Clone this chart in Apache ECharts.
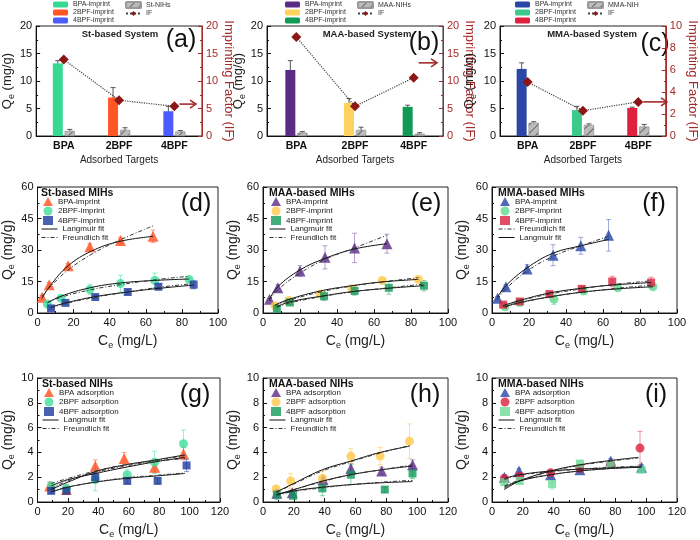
<!DOCTYPE html>
<html>
<head>
<meta charset="UTF-8">
<title>Imprinted hydrogels - adsorption</title>
<style>
  body { margin: 0; background: #fff; }
  .pane { position: absolute; left: 0; top: 0; width: 700px; height: 540px; }
</style>
</head>
<body>
<div id="pa" class="pane"></div>
<div id="pb" class="pane"></div>
<div id="pc" class="pane"></div>
<div id="pd" class="pane"></div>
<div id="pe" class="pane"></div>
<div id="pf" class="pane"></div>
<div id="pg" class="pane"></div>
<div id="ph" class="pane"></div>
<div id="pi" class="pane"></div>

<script src="https://cdn.jsdelivr.net/npm/echarts@6/dist/echarts.min.js"></script>
<script>
// ---- bar panels (a)-(c) ----
var targets = ['BPA', '2BPF', '4BPF'];

var stImp = [13.2, 7.0, 4.5], stImpErr = [0.5, 1.8, 0.9];
var stNih = [0.9, 1.1, 0.8], stNihErr = [0.3, 0.4, 0.2];
var stIF = [13.9, 6.5, 5.4];

var maaImp = [12.0, 6.0, 5.3], maaImpErr = [1.7, 0.8, 0.3];
var maaNih = [0.6, 1.1, 0.4], maaNihErr = [0.2, 0.5, 0.2];
var maaIF = [18.0, 5.4, 10.6];

var mmaImp = [12.2, 4.7, 5.1], mmaImpErr = [1.1, 0.7, 0.15];
var mmaNih = [2.4, 2.0, 1.7], mmaNihErr = [0.2, 0.2, 0.4];
var mmaIF = [4.9, 2.3, 3.1];

// ---- MIH isotherms (d)-(f): [Ce, Qe, err] ----
var dBPA = [[2.5, 7.5, 0.8], [6.5, 13.5, 1], [17, 22.5, 1], [29, 31.5, 1.5], [46, 34.5, 1.5], [64, 36.5, 3]];
var d2BPF = [[5.5, 4.3, 0.5], [13, 7, 0.8], [29, 11.2, 2.5], [46, 14, 4], [65, 15.5, 3.5], [84, 16, 1]];
var d4BPF = [[7.5, 2.2, 0.5], [15.5, 4.8, 0.7], [32, 7.6, 0.8], [50, 10, 1], [67, 12.5, 1.2], [86.5, 13.5, 2]];
var dLangBPA = [[2.5, 7], [7, 13], [17, 22.5], [30, 29.5], [45, 34], [64, 36.5]];
var dFreuBPA = [[2.5, 8], [7, 12.5], [17, 20.5], [30, 28], [45, 34.5], [64, 41.5]];
var dLang2 = [[5.5, 4.8], [13, 8], [29, 12], [46, 14.3], [65, 15.5], [84, 16.2]];
var dFreu2 = [[5.5, 5], [13, 7.5], [29, 11], [46, 13.5], [65, 15.8], [84, 17.5]];
var dLang4 = [[7.5, 2.8], [15.5, 4.8], [32, 7.8], [50, 10], [67, 11.7], [86.5, 13.3]];
var dFreu4 = [[7.5, 2.5], [15.5, 4.5], [32, 7.5], [50, 10], [67, 12.2], [86.5, 14]];

var eBPA = [[3.5, 6.5, 0.5], [8, 12, 1.5], [20, 20, 2.5], [33.5, 26.5, 5.5], [49.5, 31, 7], [67, 33, 4.5]];
var e2BPF = [[6.5, 3.5, 0.5], [14, 6, 0.5], [31, 9, 0.8], [48, 11.5, 1], [64.5, 15.5, 0.8], [84, 16, 1]];
var e4BPF = [[7.5, 2, 1.5], [14.5, 5, 1], [33, 8, 2], [49.5, 10.5, 2], [68, 12, 3], [87, 13, 2.5]];
var eLangBPA = [[3.5, 6.5], [8, 12.5], [20, 20.5], [33.5, 26], [49.5, 30.5], [67, 33]];
var eFreuBPA = [[3.5, 6], [8, 11], [20, 19], [33.5, 25.5], [49.5, 31], [67, 37]];
var eLang2 = [[6.5, 3.8], [14, 6.5], [31, 10.5], [48, 13], [64.5, 14.8], [84, 16]];
var eFreu2 = [[6.5, 3.5], [14, 6], [31, 10], [48, 12.8], [64.5, 14.8], [84, 16.8]];
var eLang4 = [[7.5, 3], [14.5, 5.3], [33, 8.2], [49.5, 10.3], [68, 11.8], [87, 13]];
var eFreu4 = [[7.5, 2.7], [14.5, 4.8], [33, 8], [49.5, 10.2], [68, 12], [87, 13.8]];

var fBPA = [[3, 7, 0.8], [7.5, 12.5, 1], [19, 21, 2], [33, 27.5, 5], [48, 32, 4], [63, 37, 7.5]];
var f2BPF = [[7, 3, 0.5], [15, 5, 0.5], [33.5, 6.5, 2.5], [49.5, 10.5, 1], [68, 12, 1], [87, 12.5, 0.8]];
var f4BPF = [[6, 4, 0.5], [15, 5.5, 0.5], [31, 9, 1], [48.5, 11.5, 1], [65, 15, 2.5], [86, 14.5, 2.5]];
var fLangBPA = [[3, 7.5], [7.5, 13], [19, 21.5], [33, 28.5], [48, 32], [63, 35]];
var fFreuBPA = [[3, 6.5], [7.5, 11.5], [19, 20], [33, 27], [48, 32], [63, 36.5]];
var fLang2 = [[7, 3], [15, 5], [33.5, 8], [49.5, 10], [68, 11.5], [87, 12.5]];
var fFreu2 = [[7, 2.7], [15, 4.8], [33.5, 8], [49.5, 10], [68, 11.8], [87, 13.3]];
var fLang4 = [[6, 3.5], [15, 6], [31, 9.5], [48.5, 11.8], [65, 13.3], [86, 14.5]];
var fFreu4 = [[6, 3.2], [15, 5.8], [31, 9], [48.5, 11.5], [65, 13.5], [86, 15.3]];

// ---- NIH isotherms (g)-(i) ----
var gBPA = [[8, 1.3, 0.3], [19, 1.0, 0.2], [38, 2.9, 0.5], [57, 3.5, 0.5], [77, 2.8, 0.4], [96, 3.9, 0.5]];
var g2BPF = [[9, 1.3, 0.3], [19, 1.1, 0.2], [38, 1.8, 0.9], [59, 2.2, 0.4], [77, 3.2, 0.9], [96, 4.7, 1.1]];
var g4BPF = [[9, 0.9, 0.2], [19, 0.9, 0.2], [38, 2.0, 0.3], [59, 1.7, 0.2], [79, 1.7, 0.2], [98, 2.95, 0.5]];
var gLangBPA = [[9, 1.0], [20, 1.6], [38, 2.45], [58, 3.0], [78, 3.4], [97, 3.8]];
var gFreuBPA = [[9, 1.1], [20, 1.7], [38, 2.4], [58, 2.9], [78, 3.35], [97, 3.75]];
var gLang2 = [[9, 1.3], [20, 1.8], [38, 2.3], [58, 2.8], [78, 3.25], [97, 3.6]];
var gFreu2 = [[9, 1.5], [20, 1.9], [38, 2.5], [58, 3.0], [78, 3.3], [97, 3.5]];
var gLang4 = [[9, 0.8], [20, 1.2], [38, 1.6], [58, 1.9], [78, 2.1], [97, 2.3]];
var gFreu4 = [[9, 0.85], [20, 1.2], [38, 1.6], [58, 1.95], [78, 2.15], [97, 2.35]];

var hBPA = [[9, 0.7, 0.2], [19, 0.75, 0.2], [39, 1.8, 0.2], [57, 2.7, 0.4], [77, 2.5, 0.3], [97, 3.0, 0.4]];
var h2BPF = [[8.5, 1.05, 0.2], [18, 1.7, 0.6], [38.5, 1.9, 0.6], [57, 3.7, 0.6], [76, 3.7, 0.7], [95, 4.9, 1.4]];
var h4BPF = [[9, 0.6, 0.4], [19.5, 0.5, 0.2], [38.5, 1.1, 0.6], [57, 2.2, 0.8], [79, 1.0, 0.2], [97, 2.3, 0.4]];
var hLangBPA = [[9, 0.6], [20, 1.0], [39, 1.7], [57, 2.2], [77, 2.6], [97, 2.9]];
var hFreuBPA = [[9, 0.55], [20, 1.0], [39, 1.65], [57, 2.2], [77, 2.6], [97, 3.0]];
var hLang2 = [[8.5, 0.8], [20, 1.5], [38.5, 2.6], [57, 3.3], [76, 4.0], [95, 4.5]];
var hFreu2 = [[8.5, 0.75], [20, 1.45], [38.5, 2.5], [57, 3.25], [76, 3.95], [95, 4.55]];
var hLang4 = [[9, 0.6], [20, 0.9], [39, 1.2], [57, 1.4], [77, 1.55], [97, 1.65]];
var hFreu4 = [[9, 0.55], [20, 0.85], [39, 1.15], [57, 1.4], [77, 1.6], [97, 1.75]];

var iBPA = [[8, 2.0, 0.2], [17.5, 2.5, 0.2], [38, 2.2, 0.2], [57, 2.6, 0.2], [77, 3.3, 0.2], [97, 2.8, 0.2]];
var i2BPF = [[8, 1.9, 0.2], [18, 2.1, 0.2], [38, 2.35, 0.2], [57, 2.7, 0.2], [77, 3.05, 0.2], [96, 4.35, 1.35]];
var i4BPF = [[8, 1.6, 0.2], [18, 1.7, 0.2], [39, 1.45, 0.4], [57, 3.1, 0.2], [77, 3.0, 0.2], [97, 2.6, 0.2]];
var iLangBPA = [[8, 1.9], [18, 2.2], [38, 2.5], [57, 2.65], [77, 2.75], [97, 2.85]];
var iFreuBPA = [[8, 1.8], [18, 2.15], [38, 2.45], [57, 2.65], [77, 2.8], [97, 2.9]];
var iLang2 = [[8, 1.0], [18, 1.7], [38, 2.5], [57, 3.0], [77, 3.35], [95, 3.6]];
var iFreu2 = [[8, 1.1], [18, 1.7], [38, 2.45], [57, 2.95], [77, 3.3], [95, 3.55]];
var iLang4 = [[8, 1.2], [18, 1.7], [38, 2.2], [57, 2.5], [77, 2.7], [97, 2.8]];
var iFreu4 = [[8, 1.3], [18, 1.75], [38, 2.2], [57, 2.5], [77, 2.7], [97, 2.85]];

var FONT = 'Liberation Sans';
var IF_COLOR = '#8c1515';
var AX_RED = '#a52a2a';

function axisStyle(color) {
  return {
    axisLine: { show: true, lineStyle: { color: color, width: 1 } },
    axisTick: { show: true, inside: true, length: 4, lineStyle: { color: color } },
    minorTick: { show: true, splitNumber: 2, length: 2, lineStyle: { color: color } },
    splitLine: { show: false },
    axisLabel: { color: color, fontSize: 11, fontFamily: FONT, margin: 4 }
  };
}

function qName(sym, unit) {
  return sym + '{s|e} ' + unit;
}
var nameRich = { s: { fontSize: 9, fontFamily: FONT, padding: [8, 0, 0, 0] } };

// vertical error bar with caps; dx shifts it onto the bar
function errSeries(data, color, dx, yIdx) {
  return {
    type: 'custom', name: 'err', data: data, silent: true, z: 2,
    yAxisIndex: yIdx || 0,
    encode: { x: 0, y: 1 },
    renderItem: function (params, api) {
      var x = api.value(0), y = api.value(1), e = api.value(2);
      var hi = api.coord([x, y + e]), lo = api.coord([x, y - e]);
      var cx = hi[0] + (dx || 0), w = 2.5;
      var st = { stroke: color, lineWidth: 1 };
      return { type: 'group', children: [
        { type: 'line', shape: { x1: cx, y1: hi[1], x2: cx, y2: lo[1] }, style: st },
        { type: 'line', shape: { x1: cx - w, y1: hi[1], x2: cx + w, y2: hi[1] }, style: st },
        { type: 'line', shape: { x1: cx - w, y1: lo[1], x2: cx + w, y2: lo[1] }, style: st }
      ] };
    }
  };
}

function barPanel(id, p) {
  var chart = echarts.init(document.getElementById(id));
  var series = [];
  p.names.forEach(function (n, i) {
    series.push({
      name: n, type: 'bar', stack: 'imp', barWidth: 10, barGap: '20%',
      data: targets.map(function (t, j) { return j === i ? p.imp[j] : '-'; }),
      itemStyle: { color: p.colors[i] }
    });
  });
  series.push({
    name: p.nihName, type: 'bar', barWidth: 10, barGap: '20%', data: p.nih,
    itemStyle: {
      color: '#bcbcbc', borderColor: '#9a9a9a', borderWidth: 0.5,
      decal: { symbol: 'rect', symbolSize: 1, dashArrayX: [1, 0], dashArrayY: [1, 5], rotation: -Math.PI / 4, color: '#666' }
    }
  });
  series.push(errSeries(targets.map(function (t, i) { return [i, p.imp[i], p.impErr[i]]; }), '#555', -6));
  series.push(errSeries(targets.map(function (t, i) { return [i, p.nih[i], p.nihErr[i]]; }), '#555', 6));
  series.push({
    name: 'IF', type: 'line', yAxisIndex: 1, data: p.IF, z: 5,
    symbol: 'diamond', symbolSize: 10,
    itemStyle: { color: IF_COLOR },
    lineStyle: { color: '#444', width: 1.2, type: 'dotted' }
  });

  var legText = { fontSize: 7, fontFamily: FONT, color: '#333' };
  chart.setOption({
    animation: false,
    grid: { left: p.grid[0], top: 26, width: p.grid[1], height: 110, show: true, borderColor: '#222', borderWidth: 1 },
    legend: [
      { data: p.names, orient: 'vertical', left: p.legX, top: 1, padding: 0, itemGap: 1,
        itemWidth: 15, itemHeight: 6, textStyle: legText, selectedMode: false },
      { data: [p.nihName, 'IF'], orient: 'vertical', left: p.legX + 72, top: 1, padding: 0, itemGap: 1,
        itemWidth: 15, itemHeight: 6, textStyle: legText, selectedMode: false }
    ],
    xAxis: Object.assign(axisStyle('#111'), {
      type: 'category', data: targets,
      axisTick: { show: false }, minorTick: { show: false },
      axisLabel: { fontSize: 10.5, fontWeight: 'bold', fontFamily: FONT, color: '#111', margin: 5 },
      name: 'Adsorbed Targets', nameLocation: 'middle', nameGap: 19,
      nameTextStyle: { fontSize: 10, fontFamily: FONT, color: '#222' }
    }),
    yAxis: [
      Object.assign(axisStyle('#111'), {
        type: 'value', min: 0, max: 20, interval: 5,
        name: qName('Q', '(mg/g)'), nameLocation: 'middle', nameGap: p.nameGap,
        nameTextStyle: { fontSize: 13, fontFamily: FONT, color: '#222', rich: nameRich }
      }),
      Object.assign(axisStyle(AX_RED), {
        type: 'value', position: 'right', min: 0, max: p.ifMax, interval: p.ifMax / 5 >= 4 ? 5 : 2,
        name: 'Imprinting Factor (IF)', nameLocation: 'middle', nameGap: 19, nameRotate: -90,
        nameTextStyle: { fontSize: 13, fontFamily: FONT, color: AX_RED }
      })
    ],
    series: series
  });

  // panel text and the arrow pointing at the IF axis
  var pt = chart.convertToPixel({ seriesIndex: series.length - 1 }, [2, p.arrowY]);
  var xr = p.grid[0] + p.grid[1] - 6;
  var x0 = pt[0] + 5, ay = pt[1];
  chart.setOption({
    graphic: [
      { type: 'text', x: p.titleX, y: 34, style: { text: p.title, fontSize: 9.5, fontWeight: 'bold', fontFamily: FONT, fill: '#222', align: 'center', verticalAlign: 'middle' } },
      { type: 'text', x: p.letterX, y: p.letterY, style: { text: p.letter, fontSize: 25, fontFamily: FONT, fill: '#111', align: 'center', verticalAlign: 'middle' } },
      { type: 'line', shape: { x1: x0, y1: ay, x2: xr, y2: ay }, style: { stroke: AX_RED, lineWidth: 1.6 } },
      { type: 'polyline', shape: { points: [[xr - 6, ay - 4], [xr, ay], [xr - 6, ay + 4]] }, style: { stroke: AX_RED, lineWidth: 1.6, fill: null } }
    ]
  });
}

function isoPanel(id, p) {
  var chart = echarts.init(document.getElementById(id));
  var series = [];
  p.sets.forEach(function (s) { series.push(errSeries(s.pts, s.err, 0)); });
  p.sets.forEach(function (s) {
    series.push({ name: s.name, type: 'scatter', data: s.pts, symbol: s.symbol, symbolSize: s.size,
      itemStyle: { color: s.color }, z: 3 });
  });
  p.sets.forEach(function (s) {
    series.push({ name: 'Langmuir fit', type: 'line', data: s.lang, smooth: 0.4, symbol: 'none', z: 4,
      itemStyle: { color: '#111' }, lineStyle: { color: '#111', width: 1 } });
    series.push({ name: 'Freundlich fit', type: 'line', data: s.freu, smooth: 0.4, symbol: 'none', z: 4,
      itemStyle: { color: '#333' }, lineStyle: { color: '#333', width: 1, type: [4, 2, 1, 2] } });
  });

  var legText = { fontSize: 8, fontFamily: FONT, color: '#222' };
  var lx = p.grid[0] + 7;
  chart.setOption({
    animation: false,
    grid: { left: p.grid[0], top: p.top, width: p.grid[1], height: p.height, show: true, borderColor: '#222', borderWidth: 1 },
    legend: [
      { data: p.sets.map(function (s) { return s.name; }), orient: 'vertical', left: lx + 1, top: p.top + 10,
        padding: 0, itemGap: 0.5, itemWidth: 10, itemHeight: 9, textStyle: legText, selectedMode: false },
      { data: p.fitOrder.map(function (n) { return { name: n, itemStyle: { opacity: 0 }, lineStyle: { width: 1 } }; }),
        orient: 'vertical', left: lx - 1, top: p.top + 38,
        padding: 0, itemGap: 0.5, itemWidth: 16, itemHeight: 8, textStyle: legText, selectedMode: false }
    ],
    xAxis: Object.assign(axisStyle('#111'), {
      type: 'value', min: 0, max: p.xMax, interval: 20,
      name: qName('C', '(mg/L)'), nameLocation: 'middle', nameGap: 20,
      nameTextStyle: { fontSize: 14, fontFamily: FONT, color: '#222', rich: nameRich }
    }),
    yAxis: Object.assign(axisStyle('#111'), {
      type: 'value', min: 0, max: p.yMax, interval: p.yStep,
      name: qName('Q', '(mg/g)'), nameLocation: 'middle', nameGap: 21,
      nameTextStyle: { fontSize: 14, fontFamily: FONT, color: '#222', rich: nameRich }
    }),
    graphic: [
      { type: 'text', x: lx - 1, y: p.top + 1, style: { text: p.title, fontSize: 10.5, fontWeight: 'bold', fontFamily: FONT, fill: '#111' } },
      { type: 'text', x: p.letterX, y: p.top + 17, style: { text: p.letter, fontSize: 25, fontFamily: FONT, fill: '#111', align: 'center', verticalAlign: 'middle' } }
    ],
    series: series
  });
}

barPanel('pa', { grid: [35, 167], names: ['BPA-imprint', '2BPF-imprint', '4BPF-imprint'],
  colors: ['#36d992', '#ff5624', '#4a5dfc'], nihName: 'St-NIHs',
  imp: stImp, impErr: stImpErr, nih: stNih, nihErr: stNihErr, IF: stIF, ifMax: 20,
  title: 'St-based System', titleX: 120, letter: '(a)', letterX: 181, letterY: 40, legX: 53, arrowY: 5.8, nameGap: 20 });
barPanel('pb', { grid: [267, 176], names: ['BPA-imprint', '2BPF-imprint', '4BPF-imprint'],
  colors: ['#5b2c86', '#ffd25e', '#109a56'], nihName: 'MAA-NIHs',
  imp: maaImp, impErr: maaImpErr, nih: maaNih, nihErr: maaNihErr, IF: maaIF, ifMax: 20,
  title: 'MAA-based System', titleX: 367, letter: '(b)', letterX: 424, letterY: 43, legX: 285, arrowY: 13.3, nameGap: 18 });
barPanel('pc', { grid: [500, 173], names: ['BPA-imprint', '2BPF-imprint', '4BPF-imprint'],
  colors: ['#2a47a6', '#3cc98c', '#e0203f'], nihName: 'MMA-NIH',
  imp: mmaImp, impErr: mmaImpErr, nih: mmaNih, nihErr: mmaNihErr, IF: mmaIF, ifMax: 10,
  title: 'MMA-based System', titleX: 592, letter: '(c)', letterX: 655, letterY: 44, legX: 515, arrowY: 3.1, nameGap: 22 });

var fitsLF = ['Langmuir fit', 'Freundlich fit'];
var fitsFL = ['Freundlich fit', 'Langmuir fit'];

function mihSets(c, pts, fits) {
  return [
    { name: 'BPA-imprint', symbol: 'triangle', size: 11, color: c[0], err: c[3], pts: pts[0], lang: fits[0], freu: fits[1] },
    { name: '2BPF-imprint', symbol: 'circle', size: 9, color: c[1], err: c[4], pts: pts[1], lang: fits[2], freu: fits[3] },
    { name: '4BPF-imprint', symbol: 'rect', size: 8, color: c[2], err: c[5], pts: pts[2], lang: fits[4], freu: fits[5] }
  ];
}
function nihSets(c, pts, fits) {
  var s = mihSets(c, pts, fits);
  s[0].name = 'BPA adsorption'; s[1].name = '2BPF adsorption'; s[2].name = '4BPF adsorption';
  return s;
}

var cSt = ['#ff4f1f', '#3fe09b', '#1d3a9d', 'rgba(255,90,50,0.55)', 'rgba(60,220,150,0.5)', 'rgba(30,60,160,0.5)'];
var cMaa = ['#5a2b88', '#ffc94c', '#12995a', 'rgba(110,70,160,0.5)', 'rgba(255,200,80,0.6)', 'rgba(20,160,90,0.5)'];
var cMma = ['#2446a6', '#5fd98f', '#d9203d', 'rgba(40,70,170,0.45)', 'rgba(90,210,140,0.5)', 'rgba(220,40,60,0.5)'];
var cMmaN = ['#2446a6', '#d9203d', '#6ddc98', 'rgba(40,70,170,0.45)', 'rgba(220,40,60,0.5)', 'rgba(100,210,150,0.5)'];

var midRow = { top: 187, height: 126, xMax: 100, yMax: 60, yStep: 15 };
var lowRow = { top: 378, height: 126, xMax: 120, yMax: 10, yStep: 2 };

isoPanel('pd', Object.assign({ grid: [35, 183], title: 'St-based MIHs', letter: '(d)', letterX: 196, fitOrder: fitsLF,
  sets: mihSets(cSt, [dBPA, d2BPF, d4BPF], [dLangBPA, dFreuBPA, dLang2, dFreu2, dLang4, dFreu4]) }, midRow));
isoPanel('pe', Object.assign({ grid: [263, 185], title: 'MAA-based MIHs', letter: '(e)', letterX: 426, fitOrder: fitsLF,
  sets: mihSets(cMaa, [eBPA, e2BPF, e4BPF], [eLangBPA, eFreuBPA, eLang2, eFreu2, eLang4, eFreu4]) }, midRow));
isoPanel('pf', Object.assign({ grid: [492, 185], title: 'MMA-based MIHs', letter: '(f)', letterX: 654, fitOrder: fitsFL,
  sets: mihSets(cMma, [fBPA, f2BPF, f4BPF], [fLangBPA, fFreuBPA, fLang2, fFreu2, fLang4, fFreu4]) }, midRow));

isoPanel('pg', Object.assign({ grid: [36, 184], title: 'St-based NIHs', letter: '(g)', letterX: 195, fitOrder: fitsLF,
  sets: nihSets(cSt, [gBPA, g2BPF, g4BPF], [gLangBPA, gFreuBPA, gLang2, gFreu2, gLang4, gFreu4]) }, lowRow));
isoPanel('ph', Object.assign({ grid: [263, 185], title: 'MAA-based NIHs', letter: '(h)', letterX: 425, fitOrder: fitsLF,
  sets: nihSets(cMaa, [hBPA, h2BPF, h4BPF], [hLangBPA, hFreuBPA, hLang2, hFreu2, hLang4, hFreu4]) }, lowRow));
isoPanel('pi', Object.assign({ grid: [492, 185], title: 'MMA-based NIHs', letter: '(i)', letterX: 656, fitOrder: fitsLF,
  sets: nihSets(cMmaN, [iBPA, i2BPF, i4BPF], [iLangBPA, iFreuBPA, iLang2, iFreu2, iLang4, iFreu4]) }, lowRow));
</script>
</body>
</html>
